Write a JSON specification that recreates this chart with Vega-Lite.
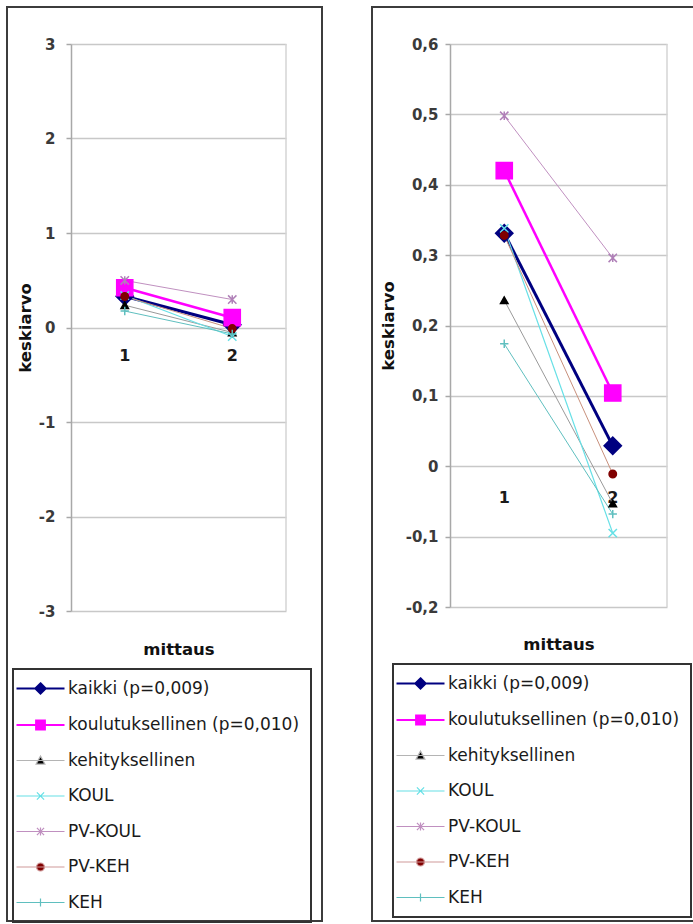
{
  "$schema": "https://vega.github.io/schema/vega-lite/v6.json",
  "background": "white",
  "padding": {"left": 6, "top": 6, "right": 0, "bottom": 0},
  "spacing": 48,
  "datasets": {
    "keskiarvot": [
      {"serie": "kaikki (p=0,009)", "mittaus": "1", "arvo": 0.331},
      {"serie": "kaikki (p=0,009)", "mittaus": "2", "arvo": 0.029},
      {"serie": "koulutuksellinen (p=0,010)", "mittaus": "1", "arvo": 0.42},
      {"serie": "koulutuksellinen (p=0,010)", "mittaus": "2", "arvo": 0.104},
      {"serie": "kehityksellinen", "mittaus": "1", "arvo": 0.236},
      {"serie": "kehityksellinen", "mittaus": "2", "arvo": -0.053},
      {"serie": "KOUL", "mittaus": "1", "arvo": 0.338},
      {"serie": "KOUL", "mittaus": "2", "arvo": -0.095},
      {"serie": "PV-KOUL", "mittaus": "1", "arvo": 0.498},
      {"serie": "PV-KOUL", "mittaus": "2", "arvo": 0.296},
      {"serie": "PV-KEH", "mittaus": "1", "arvo": 0.328},
      {"serie": "PV-KEH", "mittaus": "2", "arvo": -0.011},
      {"serie": "KEH", "mittaus": "1", "arvo": 0.174},
      {"serie": "KEH", "mittaus": "2", "arvo": -0.068}
    ]
  },
  "hconcat": [
    {
      "width": 315,
      "height": 914,
      "view": {"stroke": "#3c3c3c", "strokeWidth": 2},
      "data": {"name": "keskiarvot"},
      "encoding": {
        "x": {
          "field": "mittaus", "type": "nominal",
          "scale": {"type": "band", "domain": ["1", "2"], "range": [64, 279], "paddingInner": 0, "paddingOuter": 0},
          "axis": {"title": "mittaus", "offset": -593.5, "domain": false, "ticks": false, "tickSize": 0, "grid": false,
                   "labelAngle": 0, "labelPadding": 20, "labelFontSize": 16, "labelFontWeight": "bold", "labelColor": "#1a1a1a",
                   "titleY": 321.5, "titleBaseline": "middle", "titleFontSize": 16.5, "titleFontWeight": "bold", "titleColor": "#111"}
        },
        "y": {
          "field": "arvo", "type": "quantitative",
          "scale": {"domain": [-3, 3], "range": [604, 37], "nice": false, "zero": false},
          "axis": {"title": "keskiarvo", "offset": -64, "values": [-3, -2, -1, 0, 1, 2, 3],
                   "grid": true, "gridColor": "#c8c8c8", "gridWidth": 1.5,
                   "domainColor": "#a8a8a8", "domainWidth": 1.5, "tickColor": "#a8a8a8", "tickSize": 5, "tickWidth": 1.5,
                   "labelPadding": 11, "labelFontSize": 15, "labelFontWeight": "bold", "labelColor": "#3a3a3a",
                   "labelExpr": "replace(replace(format(datum.value, '.1~f'), '.', ','), '\u2212', '-')",
                   "titleX": -46, "titleY": 320.5, "titleBaseline": "middle", "titleFontSize": 16.5, "titleFontWeight": "bold", "titleColor": "#111"}
        }
      },
      "layer": [
        {
          "data": {"values": [{"mittaus": "2", "yla": 3, "ala": -3}]},
          "mark": {"type": "rule", "color": "#d4d4d4", "strokeWidth": 1.5},
          "encoding": {
            "x": {"field": "mittaus", "type": "nominal", "bandPosition": 1},
            "y": {"field": "yla", "type": "quantitative"},
            "y2": {"field": "ala"}
          }
        },
        {
          "mark": {"type": "line"},
          "encoding": {
            "stroke": {
              "field": "serie", "type": "nominal",
              "scale": {"domain": ["kaikki (p=0,009)", "koulutuksellinen (p=0,010)", "kehityksellinen", "KOUL", "PV-KOUL", "PV-KEH", "KEH"],
                        "range": ["#000080", "#ff00ff", "#9a9a9a", "#66e0e6", "#c090c0", "#c8907c", "#5fbfbf"]},
              "legend": null
            },
            "strokeWidth": {
              "field": "serie", "type": "nominal",
              "scale": {"type": "ordinal", "domain": ["kaikki (p=0,009)", "koulutuksellinen (p=0,010)", "kehityksellinen", "KOUL", "PV-KOUL", "PV-KEH", "KEH"],
                        "range": [3, 2.5, 1, 1.2, 1, 1, 1]},
              "legend": null
            }
          }
        },
        {
          "mark": {"type": "point", "filled": false, "opacity": 1, "strokeWidth": 1.5},
          "encoding": {
            "shape": {
              "field": "serie", "type": "nominal",
              "scale": {"domain": ["kaikki (p=0,009)", "koulutuksellinen (p=0,010)", "kehityksellinen", "KOUL", "PV-KOUL", "PV-KEH", "KEH"],
                        "range": ["diamond", "square", "triangle-up", "M-1,-1L1,1M-1,1L1,-1", "M-1,-1L1,1M-1,1L1,-1M0,-1V1", "circle", "M-1,0H1M0,-1V1"]},
              "legend": null
            },
            "color": {
              "field": "serie", "type": "nominal",
              "scale": {"domain": ["kaikki (p=0,009)", "koulutuksellinen (p=0,010)", "kehityksellinen", "KOUL", "PV-KOUL", "PV-KEH", "KEH"],
                        "range": ["#000080", "#ff00ff", "#000000", "#66e0e6", "#b080b8", "#800000", "#5fbfbf"]},
              "legend": null
            },
            "fill": {
              "field": "serie", "type": "nominal",
              "scale": {"domain": ["kaikki (p=0,009)", "koulutuksellinen (p=0,010)", "kehityksellinen", "KOUL", "PV-KOUL", "PV-KEH", "KEH"],
                        "range": ["#000080", "#ff00ff", "#000000", "transparent", "transparent", "#800000", "transparent"]},
              "legend": null
            },
            "size": {
              "field": "serie", "type": "nominal",
              "scale": {"type": "ordinal", "domain": ["kaikki (p=0,009)", "koulutuksellinen (p=0,010)", "kehityksellinen", "KOUL", "PV-KOUL", "PV-KEH", "KEH"],
                        "range": [300, 260, 55, 70, 70, 55, 70]},
              "legend": null
            }
          }
        },
        {
          "transform": [{"filter": "false"}],
          "mark": {"type": "point", "filled": false},
          "encoding": {
            "shape": {
              "field": "serie", "type": "nominal",
              "scale": {"domain": ["kaikki (p=0,009)", "koulutuksellinen (p=0,010)", "kehityksellinen", "KOUL", "PV-KOUL", "PV-KEH", "KEH"],
                        "range": ["M-6,0H6M0,-1.3L1.3,0L0,1.3L-1.3,0Z", "M-6,0H6M-1.1,-1.1H1.1V1.1H-1.1Z", "M-6,0H6M0,-1.1L1.1,0.9H-1.1Z",
                                  "M-6,0H6M-0.9,-0.9L0.9,0.9M-0.9,0.9L0.9,-0.9", "M-6,0H6M-0.9,-0.9L0.9,0.9M-0.9,0.9L0.9,-0.9M0,-1V1",
                                  "M-6,0H6M1,0A1,1,0,1,1,-1,0A1,1,0,1,1,1,0Z", "M-6,0H6M0,-1V1"]},
              "legend": {"orient": "none", "legendX": 6, "legendY": 662, "title": null}
            },
            "fill": {
              "field": "serie", "type": "nominal",
              "scale": {"domain": ["kaikki (p=0,009)", "koulutuksellinen (p=0,010)", "kehityksellinen", "KOUL", "PV-KOUL", "PV-KEH", "KEH"],
                        "range": ["#000080", "#ff00ff", "#000000", "transparent", "transparent", "#800000", "transparent"]},
              "legend": {"orient": "none", "legendX": 6, "legendY": 662, "title": null}
            },
            "stroke": {
              "field": "serie", "type": "nominal",
              "scale": {"domain": ["kaikki (p=0,009)", "koulutuksellinen (p=0,010)", "kehityksellinen", "KOUL", "PV-KOUL", "PV-KEH", "KEH"],
                        "range": ["#000080", "#ff00ff", "#b4b4b4", "#66e0e6", "#c090c0", "#d09a9a", "#5fbfbf"]},
              "legend": {"orient": "none", "legendX": 6, "legendY": 662, "title": null}
            },
            "strokeWidth": {
              "field": "serie", "type": "nominal",
              "scale": {"type": "ordinal", "domain": ["kaikki (p=0,009)", "koulutuksellinen (p=0,010)", "kehityksellinen", "KOUL", "PV-KOUL", "PV-KEH", "KEH"],
                        "range": [2, 2, 1.2, 1.2, 1.2, 1.2, 1.2]},
              "legend": {"orient": "none", "legendX": 6, "legendY": 662, "title": null}
            }
          }
        }
      ],
      "resolve": {"scale": {"shape": "independent", "fill": "independent", "stroke": "independent", "strokeWidth": "independent"}}
    },
    {
      "width": 330,
      "height": 914,
      "view": {"stroke": "#3c3c3c", "strokeWidth": 2},
      "data": {"name": "keskiarvot"},
      "encoding": {
        "x": {
          "field": "mittaus", "type": "nominal",
          "scale": {"type": "band", "domain": ["1", "2"], "range": [78, 295], "paddingInner": 0, "paddingOuter": 0},
          "axis": {"title": "mittaus", "offset": -454.75, "domain": false, "ticks": false, "tickSize": 0, "grid": false,
                   "labelAngle": 0, "labelPadding": 23, "labelFontSize": 16, "labelFontWeight": "bold", "labelColor": "#1a1a1a",
                   "titleY": 177.75, "titleBaseline": "middle", "titleFontSize": 16.5, "titleFontWeight": "bold", "titleColor": "#111"}
        },
        "y": {
          "field": "arvo", "type": "quantitative",
          "scale": {"domain": [-0.2, 0.6], "range": [600, 37], "nice": false, "zero": false},
          "axis": {"title": "keskiarvo", "offset": -78, "values": [-0.2, -0.1, 0, 0.1, 0.2, 0.3, 0.4, 0.5, 0.6],
                   "grid": true, "gridColor": "#c8c8c8", "gridWidth": 1.5,
                   "domainColor": "#a8a8a8", "domainWidth": 1.5, "tickColor": "#a8a8a8", "tickSize": 5, "tickWidth": 1.5,
                   "labelPadding": 7, "labelFontSize": 15, "labelFontWeight": "bold", "labelColor": "#3a3a3a",
                   "labelExpr": "replace(replace(format(datum.value, '.1~f'), '.', ','), '\u2212', '-')",
                   "titleX": -62, "titleY": 318.5, "titleBaseline": "middle", "titleFontSize": 16.5, "titleFontWeight": "bold", "titleColor": "#111"}
        }
      },
      "layer": [
        {
          "data": {"values": [{"mittaus": "2", "yla": 0.6, "ala": -0.2}]},
          "mark": {"type": "rule", "color": "#d4d4d4", "strokeWidth": 1.5},
          "encoding": {
            "x": {"field": "mittaus", "type": "nominal", "bandPosition": 1},
            "y": {"field": "yla", "type": "quantitative"},
            "y2": {"field": "ala"}
          }
        },
        {
          "mark": {"type": "line"},
          "encoding": {
            "stroke": {
              "field": "serie", "type": "nominal",
              "scale": {"domain": ["kaikki (p=0,009)", "koulutuksellinen (p=0,010)", "kehityksellinen", "KOUL", "PV-KOUL", "PV-KEH", "KEH"],
                        "range": ["#000080", "#ff00ff", "#9a9a9a", "#66e0e6", "#c090c0", "#c8907c", "#5fbfbf"]},
              "legend": null
            },
            "strokeWidth": {
              "field": "serie", "type": "nominal",
              "scale": {"type": "ordinal", "domain": ["kaikki (p=0,009)", "koulutuksellinen (p=0,010)", "kehityksellinen", "KOUL", "PV-KOUL", "PV-KEH", "KEH"],
                        "range": [3, 2.5, 1, 1.2, 1, 1, 1]},
              "legend": null
            }
          }
        },
        {
          "mark": {"type": "point", "filled": false, "opacity": 1, "strokeWidth": 1.5},
          "encoding": {
            "shape": {
              "field": "serie", "type": "nominal",
              "scale": {"domain": ["kaikki (p=0,009)", "koulutuksellinen (p=0,010)", "kehityksellinen", "KOUL", "PV-KOUL", "PV-KEH", "KEH"],
                        "range": ["diamond", "square", "triangle-up", "M-1,-1L1,1M-1,1L1,-1", "M-1,-1L1,1M-1,1L1,-1M0,-1V1", "circle", "M-1,0H1M0,-1V1"]},
              "legend": null
            },
            "color": {
              "field": "serie", "type": "nominal",
              "scale": {"domain": ["kaikki (p=0,009)", "koulutuksellinen (p=0,010)", "kehityksellinen", "KOUL", "PV-KOUL", "PV-KEH", "KEH"],
                        "range": ["#000080", "#ff00ff", "#000000", "#66e0e6", "#b080b8", "#800000", "#5fbfbf"]},
              "legend": null
            },
            "fill": {
              "field": "serie", "type": "nominal",
              "scale": {"domain": ["kaikki (p=0,009)", "koulutuksellinen (p=0,010)", "kehityksellinen", "KOUL", "PV-KOUL", "PV-KEH", "KEH"],
                        "range": ["#000080", "#ff00ff", "#000000", "transparent", "transparent", "#800000", "transparent"]},
              "legend": null
            },
            "size": {
              "field": "serie", "type": "nominal",
              "scale": {"type": "ordinal", "domain": ["kaikki (p=0,009)", "koulutuksellinen (p=0,010)", "kehityksellinen", "KOUL", "PV-KOUL", "PV-KEH", "KEH"],
                        "range": [300, 260, 55, 70, 70, 55, 70]},
              "legend": null
            }
          }
        },
        {
          "transform": [{"filter": "false"}],
          "mark": {"type": "point", "filled": false},
          "encoding": {
            "shape": {
              "field": "serie", "type": "nominal",
              "scale": {"domain": ["kaikki (p=0,009)", "koulutuksellinen (p=0,010)", "kehityksellinen", "KOUL", "PV-KOUL", "PV-KEH", "KEH"],
                        "range": ["M-6,0H6M0,-1.3L1.3,0L0,1.3L-1.3,0Z", "M-6,0H6M-1.1,-1.1H1.1V1.1H-1.1Z", "M-6,0H6M0,-1.1L1.1,0.9H-1.1Z",
                                  "M-6,0H6M-0.9,-0.9L0.9,0.9M-0.9,0.9L0.9,-0.9", "M-6,0H6M-0.9,-0.9L0.9,0.9M-0.9,0.9L0.9,-0.9M0,-1V1",
                                  "M-6,0H6M1,0A1,1,0,1,1,-1,0A1,1,0,1,1,1,0Z", "M-6,0H6M0,-1V1"]},
              "legend": {"orient": "none", "legendX": 21, "legendY": 657, "title": null}
            },
            "fill": {
              "field": "serie", "type": "nominal",
              "scale": {"domain": ["kaikki (p=0,009)", "koulutuksellinen (p=0,010)", "kehityksellinen", "KOUL", "PV-KOUL", "PV-KEH", "KEH"],
                        "range": ["#000080", "#ff00ff", "#000000", "transparent", "transparent", "#800000", "transparent"]},
              "legend": {"orient": "none", "legendX": 21, "legendY": 657, "title": null}
            },
            "stroke": {
              "field": "serie", "type": "nominal",
              "scale": {"domain": ["kaikki (p=0,009)", "koulutuksellinen (p=0,010)", "kehityksellinen", "KOUL", "PV-KOUL", "PV-KEH", "KEH"],
                        "range": ["#000080", "#ff00ff", "#b4b4b4", "#66e0e6", "#c090c0", "#d09a9a", "#5fbfbf"]},
              "legend": {"orient": "none", "legendX": 21, "legendY": 657, "title": null}
            },
            "strokeWidth": {
              "field": "serie", "type": "nominal",
              "scale": {"type": "ordinal", "domain": ["kaikki (p=0,009)", "koulutuksellinen (p=0,010)", "kehityksellinen", "KOUL", "PV-KOUL", "PV-KEH", "KEH"],
                        "range": [2, 2, 1.2, 1.2, 1.2, 1.2, 1.2]},
              "legend": {"orient": "none", "legendX": 21, "legendY": 657, "title": null}
            }
          }
        }
      ],
      "resolve": {"scale": {"shape": "independent", "fill": "independent", "stroke": "independent", "strokeWidth": "independent"}}
    }
  ],
  "resolve": {
    "scale": {"stroke": "independent", "strokeWidth": "independent", "color": "independent", "fill": "independent", "shape": "independent", "size": "independent"}
  },
  "config": {
    "font": "DejaVu Sans",
    "axis": {"labelFont": "DejaVu Sans", "titleFont": "DejaVu Sans"},
    "legend": {
      "labelFont": "DejaVu Sans", "labelFontSize": 17, "labelColor": "#1a1a1a", "labelLimit": 320,
      "symbolSize": 64, "symbolOffset": 8, "labelOffset": 19, "rowPadding": 17.5, "padding": 11,
      "strokeColor": "#333333", "strokeWidth": 2, "symbolOpacity": 1
    }
  }
}
